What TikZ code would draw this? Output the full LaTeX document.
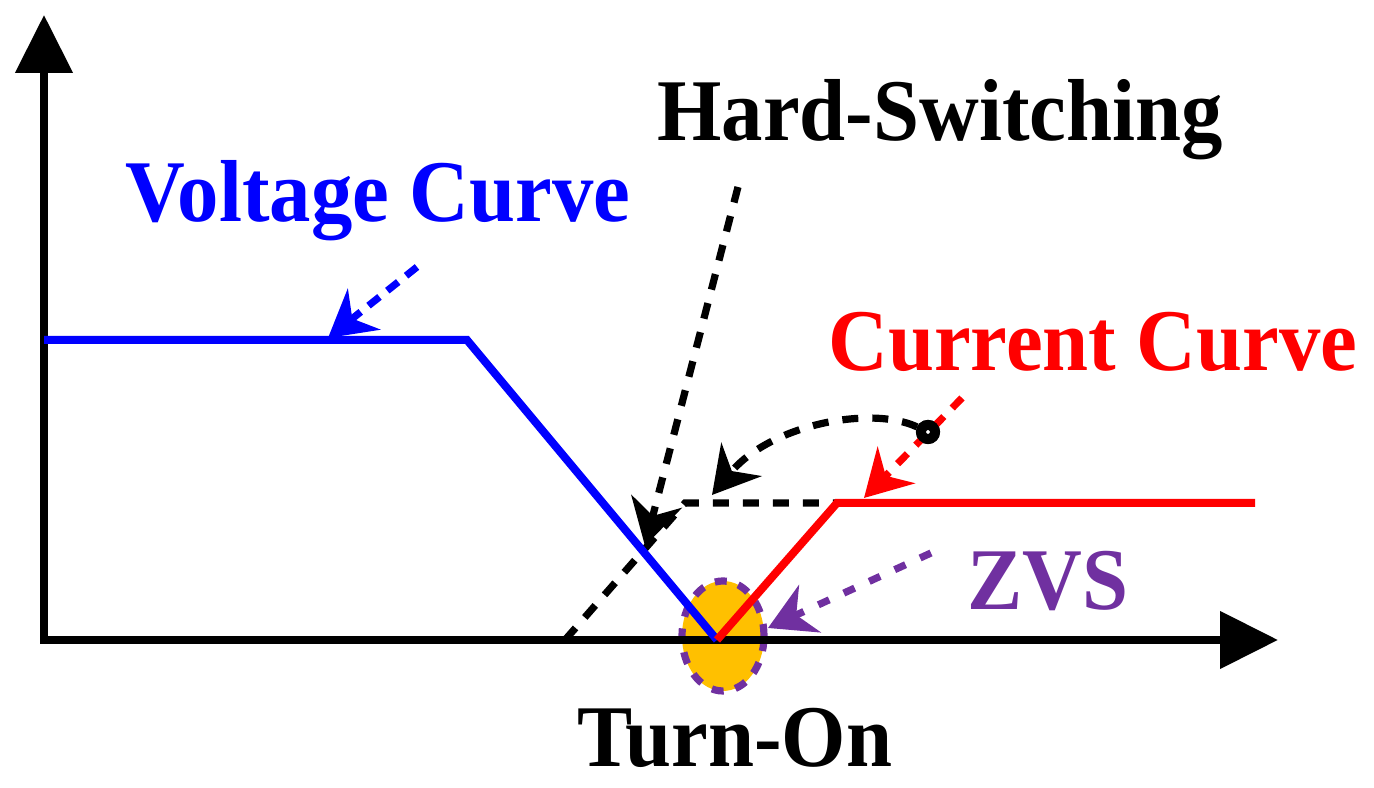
\documentclass[tikz,border=0pt]{standalone}
\usepackage{fontspec}
\setmainfont{Liberation Serif}[FakeStretch=0.94]
\usepackage{tikz}
\usetikzlibrary{arrows.meta,shapes.geometric}
\pgfdeclarelayer{bg}
\pgfsetlayers{bg,main}
\definecolor{zvspurple}{RGB}{112,48,160}
\definecolor{zvsorange}{RGB}{255,192,0}

\begin{document}
\begin{tikzpicture}[x=0.25pt,y=-0.25pt,
        lbl/.style={font=\fontsize{22}{26}\selectfont\bfseries, anchor=base, inner sep=0pt},
        axis/.style={line width=2pt, -{Triangle[length=14.5pt,width=14pt]}},
        curve/.style={line width=2pt},
        hint/.style={line width=1.8pt, dash pattern=on 4pt off 3.5pt},
        pointer/.style={hint, -{Stealth[length=11.5pt,width=13pt]}},
        joint/.style={circle, draw, fill=white, line width=2.5pt, minimum size=3.5pt, inner sep=0pt}]
        \useasboundingbox (0,0) rectangle (1374,788);
        % axes
        \coordinate (x0) at (40,640);
        \coordinate (x1) at (1278,640);
        \coordinate (y0) at (44,644);
        \coordinate (y1) at (44,15);
        % curves
        \coordinate (v0) at (44,340);
        \coordinate (v1) at (467,340);
        \coordinate (v2) at (717,640);
        \coordinate (c1) at (837,503);
        \coordinate (c2) at (1255,503);
        \coordinate (h0) at (565,640);
        \coordinate (h1) at (685,503);
        % pointer ends
        \coordinate (pv0) at (417,267);
        \coordinate (pv1) at (328,338);
        \coordinate (ph0) at (738,187);
        \coordinate (ph1) at (645,546);
        \coordinate (pc0) at (962,398);
        \coordinate (pc1) at (864,498);
        \coordinate (pk1) at (712,495);
        \coordinate (pz0) at (931,553);
        \coordinate (pz1) at (768,628);
        \node (vtxt) [lbl, blue] at (378,222) {Voltage Curve};
        \node (htxt) [lbl] at (940,141) {Hard-Switching};
        \node (ctxt) [lbl, red] at (1093,371) {Current Curve};
        \node (ztxt) [lbl, zvspurple] at (1048,610) {ZVS};
        \node (ttxt) [lbl] at (735,767) {Turn-On};
        \node (dot) [joint] at (928,432) {};
        \begin{pgfonlayer}{bg}
                \node (zvs) [ellipse, fill=zvsorange, draw=zvspurple, line width=1.8pt, dash pattern=on 3pt off 3pt,
                        minimum width=20.5pt, minimum height=27.5pt, inner sep=0pt] at (723,636) {};
        \end{pgfonlayer}
        \draw [axis] (x0) -- (x1);
        \draw [axis] (y0) -- (y1);
        \draw [hint] (h0) -- (h1) -- (c1);
        \draw [curve, blue] (v0) -- (v1) -- (v2);
        \draw [curve, red] (v2) -- (c1) -- (c2);
        \draw [pointer, blue, dash pattern=on 3.5pt off 2.5pt] (pv0) -- (pv1);
        \draw [pointer] (ph0) -- (ph1);
        \draw [pointer, red, dash pattern=on 3.5pt off 3pt] (pc0) -- (pc1);
        \draw [pointer] (dot) .. controls (870,405) and (770,425) .. (pk1);
        \draw [pointer, zvspurple, dash pattern=on 3pt off 4pt] (pz0) -- (pz1);
        \node [joint] at (dot) {};
\end{tikzpicture}
\end{document}
